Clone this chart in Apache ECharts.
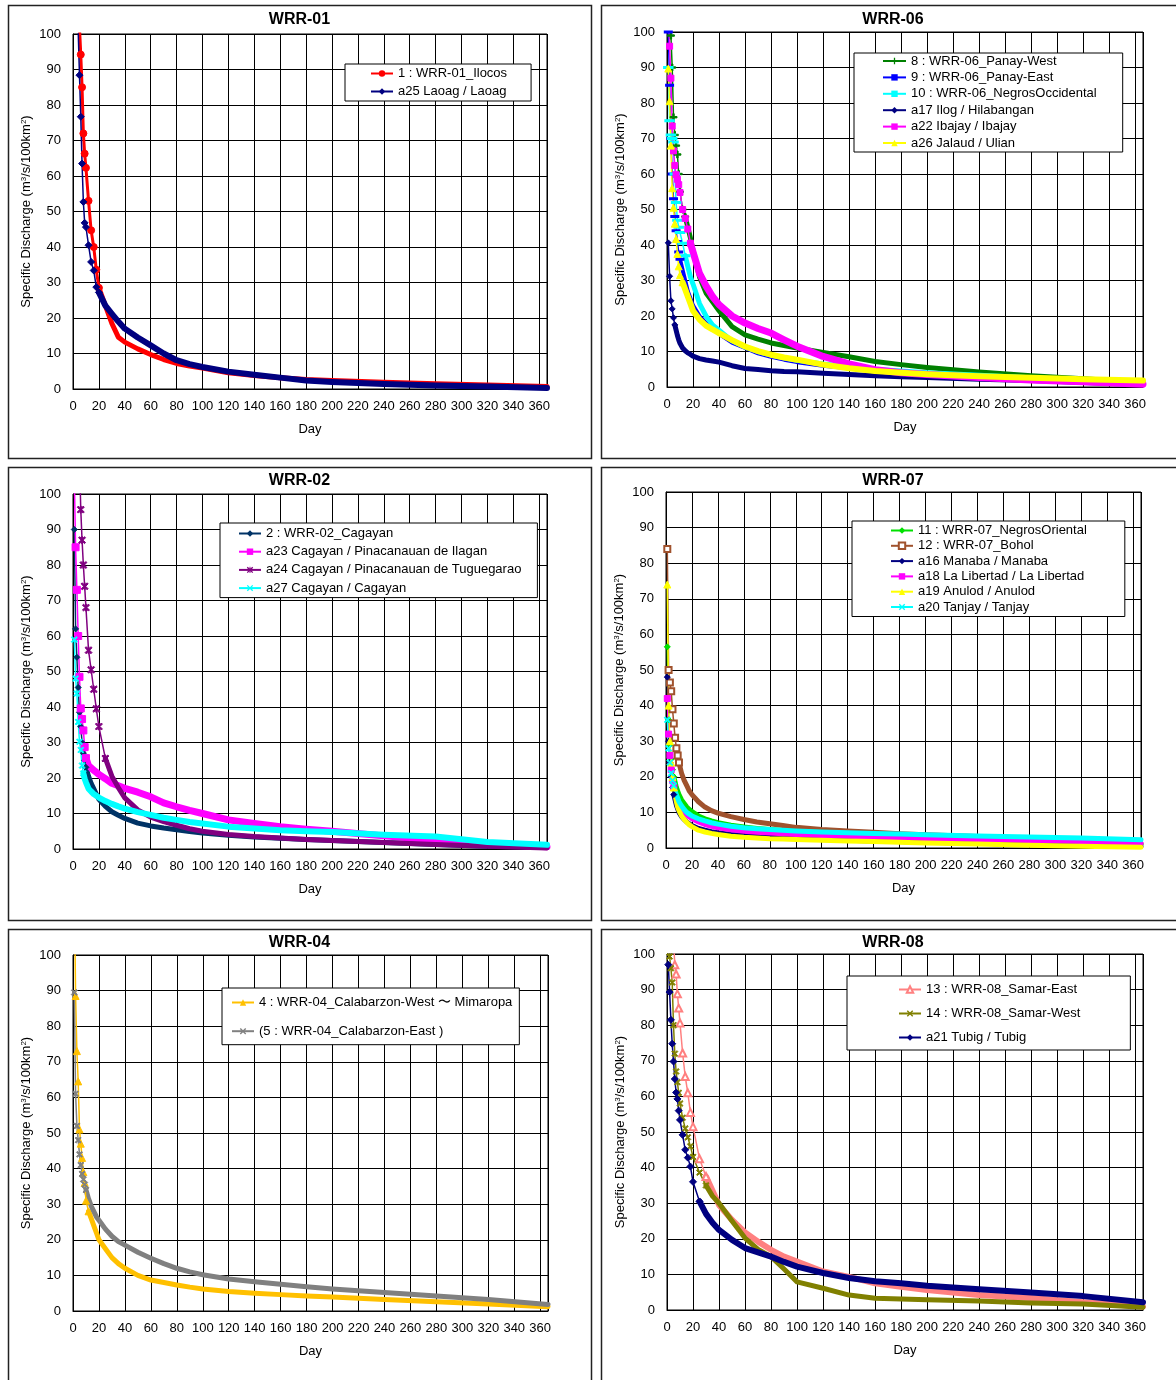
<!DOCTYPE html>
<html><head><meta charset="utf-8">
<script src="https://cdn.jsdelivr.net/npm/echarts@6/dist/echarts.min.js"></script>
<style>html,body{margin:0;padding:0;background:#fff}#c{width:1176px;height:1380px}</style>
</head><body><div id="c"></div>
<script>
// ---------- DATA ----------
const days = [1,2,3,4,5,6,7,8,9,10,12,14,16,18,20,25,30,35,40,50,60,70,80,90,100,120,140,160,180,200,240,280,320,366];

// WRR-01
const wrr01_ilocos = [250,180,140,115,102,94.2,85,72,66.3,62.3,53,44.7,40,33.6,28.5,23.5,18.5,14.6,13.2,11.3,9.7,8.3,7.2,6.5,5.9,4.6,3.8,3.2,2.7,2.4,1.9,1.5,1.1,0.7];
const a25_laoag    = [200,150,115,101,88.4,76.7,63.5,52.7,46.8,45.6,40.5,35.8,33.4,28.7,27.2,23.5,21.2,19,17,14.5,12.3,10,8.1,7,6.2,4.9,4,3.2,2.4,2,1.4,1,0.7,0.3];
// WRR-06
const wrr06_panayWest = [200,130,99,90,76,71,68,65.5,60,55,50,48,45,42,38.5,31,26.5,24,21.5,17,14.7,13.5,12.4,11.7,11,9.7,8.5,7.2,6.3,5.5,4.2,3.2,2.3,1.3];
const wrr06_panayEast = [100,85,70,60,53,48,44,41,38,36,33,30,27,25,23,20,18,16.5,15,12.5,11,9.5,8.5,7.7,7,6,5.3,4.6,4.1,3.7,3,2.4,1.9,1.2];
const wrr06_negrosOcc = [90,75,71,70,69,60,52,47,45,43.5,40.5,37,34,31,29,23.5,20,17.5,16,13,11.3,10,9,8.2,7.5,6.5,5.7,5,4.5,4,3.3,2.6,2,1.4];
const a17_ilog        = [40.6,31.2,24.3,22,19.5,17.5,16,14.5,13.3,12.3,11,10.2,9.6,9.2,8.7,8,7.6,7.3,7,6,5.2,4.9,4.6,4.4,4.3,3.9,3.5,3.2,2.9,2.7,2.2,1.8,1.3,0.7];
const a22_ibajay      = [110,96,87,73.5,66.5,62.4,59.8,58.5,57,54.8,50,47.5,44.5,40.5,38,32,28.5,25.5,23.2,20,18,16.5,15.2,13.3,11.5,8.6,6.5,4.9,4,3.5,2.7,2,1.5,0.8];
const a26_jalaud      = [89.7,80.5,68,56,50.5,46,41.7,37.5,34,31.5,29.5,27.5,25.5,23.5,21.5,19,17.3,16.2,15.2,13.2,11.4,10.1,9.1,8.3,7.7,6.3,5.3,4.5,4,3.6,3,2.6,2.2,1.8];
// WRR-02
const wrr02_cagayan   = [90,62,54,45.5,38.5,34.5,30,27,25,23,20.5,18.5,17,15.5,14,12,10.5,9.5,8.6,7.3,6.5,5.9,5.4,4.9,4.5,3.9,3.4,3,2.7,2.4,1.8,1.3,0.8,0.4];
const a23_ilagan      = [105,85,73,60,48.5,39.6,36.6,33.4,28.7,25.6,23.5,22.8,22.2,21.6,21,19.8,18.5,17.8,17.1,16,14.7,13,11.9,10.9,10,8.2,7.2,6.3,5.6,5,3.7,2.5,1.5,0.6];
const a24_tuguegarao  = [400,300,200,150,110,95.6,87,80,74,68,56,50.5,45,39.5,34.5,25.5,20.5,17.3,14.4,11,9,7.7,6.7,5.7,5,4.1,3.5,3.1,2.7,2.4,1.8,1.3,0.8,0.3];
const a27_cagayan     = [59,48,43.8,35.8,30.2,27.9,23.5,21.3,19.8,18.8,17,16.2,15.5,15,14.5,13.5,12.7,12,11.4,10.4,9.6,8.8,8.2,7.6,7.2,6.3,5.8,5.3,5,4.8,4,3.5,2,1.2];
// WRR-07
const wrr07_negrosOr  = [56.5,36,29,25,22,20,18.5,17,16,15,13.5,12.5,11.5,10.8,10.2,9,8.2,7.6,7.1,6.4,5.9,5.5,5.2,4.9,4.7,4.3,4,3.7,3.4,3.1,2.6,2.1,1.6,1];
const wrr07_bohol     = [84,50,46.5,44,39,35,31,28,26,24,21,19,17.5,16,15,13,11.5,10.5,9.8,8.8,8,7.3,6.8,6.3,5.8,5.2,4.8,4.4,4,3.7,3.2,2.7,2.2,1.2];
const a16_manaba      = [48,30,24,20,17,15,13.5,12,11,10,8.8,8,7.3,6.8,6.3,5.5,5,4.6,4.3,3.8,3.5,3.3,3.1,2.9,2.7,2.4,2.2,2,1.8,1.6,1.3,1,0.8,0.4];
const a18_libertad    = [42,32,26,22,19,17,15.5,14,13,12,10.8,10,9.3,8.7,8.2,7.3,6.6,6.1,5.7,5.1,4.7,4.4,4.2,4,3.8,3.5,3.3,3.1,2.9,2.7,2.4,2.1,1.8,1.3];
const a19_anulod      = [74,40,30,24,20,17,15,13,11.5,10.5,9,8,7.2,6.5,6,5,4.5,4.1,3.8,3.3,3,2.8,2.6,2.5,2.4,2.2,2,1.8,1.6,1.4,1.1,0.8,0.5,0.2];
const a20_tanjay      = [36,28,24,21,19,17.5,16,15,14,13,11.8,10.8,10,9.5,9,8.2,7.6,7.1,6.7,6.1,5.7,5.4,5.2,5,4.8,4.5,4.3,4.1,3.9,3.7,3.4,3.1,2.8,2.3];
// WRR-04
const wrr04_west      = [120,88.5,73,64.5,51,47,43,39,36,31,28,26,24,22,20,17.5,15,13.3,12,10,8.7,8,7.3,6.7,6.2,5.5,5,4.6,4.2,3.9,3.2,2.6,2,1.2];
const wrr04_east      = [89.5,61,52,48,44,41,38.5,37,35.5,34,31.5,29.5,28,26.5,25.5,23,21,19.5,18.5,16.5,14.8,13.3,12,11,10.2,9,8.2,7.5,6.8,6.2,5.2,4.2,3.2,1.8];
// WRR-08
const wrr08_samarEast = [300,200,150,120,104,97,94.4,88.8,84.8,80.6,72.2,65.6,61,55.5,51.5,42.5,37.5,33.5,29.5,25.3,21.8,19.2,16.9,15,13.6,10.8,9.3,7.5,6.5,5.6,4.2,3.4,2.2,1];
const wrr08_samarWest = [110,99.3,96,92,80,72,67,64,61,58,54,51,48.5,46,43,38.6,35,32,30,25,20.2,17,15,11.5,7.9,6.1,4.2,3.3,3.1,2.9,2.5,2,1.7,0.8];
const a21_tubig       = [97,89.3,81.5,74.8,69.8,64.9,61.1,59.3,56,53.4,49.2,45,42.8,40.3,36,30.5,27,24.5,22.5,19.7,17.4,16.2,15,13.5,12.2,10.4,9,8.1,7.5,6.8,5.8,4.9,3.9,2.2];

const titles = ['WRR-01','WRR-06','WRR-02','WRR-07','WRR-04','WRR-08'];

// ---------- STYLE / LAYOUT ----------
const PLUS = 'path://M4,0H6V4H10V6H6V10H4V6H0V4H4Z';
const XM = 'M0,1.5L1.5,0L5,3.5L8.5,0L10,1.5L6.5,5L10,8.5L8.5,10L5,6.5L1.5,10L0,8.5L3.5,5Z';
const XMARK = 'path://' + XM;
const STAR = 'path://' + XM + 'M4.3,0H5.7V10H4.3Z';
const DASH = 'path://M0,0H10V2H0Z';
const FONT = 'Liberation Sans, Arial, sans-serif';

const panels = [
 {g:[73,34,474,355], box:[8,5,583,453], t:[299.5,20],
  lg:{left:345,top:64,padding:[2,24,2,25],itemGap:3,lh:15,iw:22},
  s:[{name:'1 : WRR-01_Ilocos',d:wrr01_ilocos,c:'#FF0000',sym:'circle',sz:7,lw:3,tw:5,split:20},
     {name:'a25 Laoag / Laoag',d:a25_laoag,c:'#000080',sym:'diamond',sz:7,lw:1.5,tw:6,split:20}]},
 {g:[667,32,476,355], box:[601,5,600,453], t:[893,20],
  lg:{left:854,top:53,padding:[1,26,2,28],itemGap:2.4,lh:14,iw:23},
  s:[{name:'8 : WRR-06_Panay-West',d:wrr06_panayWest,c:'#008000',sym:PLUS,sz:7,lw:1.5,tw:5,split:14},
     {name:'9 : WRR-06_Panay-East',d:wrr06_panayEast,c:'#0000FF',sym:DASH,sz:[6,2],lw:1.5,tw:4,split:10},
     {name:'10 : WRR-06_NegrosOccidental',d:wrr06_negrosOcc,c:'#00FFFF',sym:DASH,sz:[7,2],lw:1.5,tw:5,split:14},
     {name:'a17 Ilog / Hilabangan',d:a17_ilog,c:'#000080',sym:'diamond',sz:6,lw:1.5,tw:5,split:6},
     {name:'a22 Ibajay / Ibajay',d:a22_ibajay,c:'#FF00FF',sym:'rect',sz:6,lw:1.5,tw:7,split:18},
     {name:'a26 Jalaud / Ulian',d:a26_jalaud,c:'#FFFF00',sym:'triangle',sz:7,lw:1.5,tw:6,split:12}]},
 {g:[73,494,474,355], box:[8,467,583,453], t:[299.5,481],
  lg:{left:220,top:523,padding:[3,16,2,18],itemGap:3.2,lh:15,iw:22},
  s:[{name:'2 : WRR-02_Cagayan',d:wrr02_cagayan,c:'#003366',sym:'diamond',sz:6,lw:1.5,tw:5,split:10},
     {name:'a23 Cagayan / Pinacanauan de Ilagan',d:a23_ilagan,c:'#FF00FF',sym:'rect',sz:7,lw:1.5,tw:7,split:10},
     {name:'a24 Cagayan / Pinacanauan de Tuguegarao',d:a24_tuguegarao,c:'#800080',sym:STAR,sz:7,lw:1.5,tw:5,split:25},
     {name:'a27 Cagayan / Cagayan',d:a27_cagayan,c:'#00FFFF',sym:XMARK,sz:6,lw:1.5,tw:6,split:8}]},
 {g:[666,492,475,356], box:[601,467,600,453], t:[893,481],
  lg:{left:852,top:521,padding:[3,38,3,38],itemGap:2.3,lh:13,iw:22},
  s:[{name:'11 : WRR-07_NegrosOriental',d:wrr07_negrosOr,c:'#00E000',sym:'diamond',sz:6,lw:1.5,tw:5,split:6},
     {name:'12 : WRR-07_Bohol',d:wrr07_bohol,c:'#A0522D',sym:'emptyRect',sz:6,lw:1.5,tw:5,split:10},
     {name:'a16 Manaba / Manaba',d:a16_manaba,c:'#000080',sym:'diamond',sz:6,lw:1.5,tw:5,split:6},
     {name:'a18 La Libertad / La Libertad',d:a18_libertad,c:'#FF00FF',sym:'rect',sz:6,lw:1.5,tw:5,split:6},
     {name:'a19 Anulod / Anulod',d:a19_anulod,c:'#FFFF00',sym:'triangle',sz:7,lw:1.5,tw:5,split:6},
     {name:'a20 Tanjay / Tanjay',d:a20_tanjay,c:'#00FFFF',sym:XMARK,sz:6,lw:1.5,tw:5,split:6}]},
 {g:[73,955,475,356], box:[8,929,583,460], t:[299.5,943],
  lg:{left:222,top:988,padding:[7,7,6,9],itemGap:13.7,lh:15,iw:22},
  s:[{name:'4 : WRR-04_Calabarzon-West \u301C Mimaropa',d:wrr04_west,c:'#FFC000',sym:'triangle',sz:7,lw:1.5,tw:5,split:12},
     {name:'(5 : WRR-04_Calabarzon-East )',d:wrr04_east,c:'#808080',sym:XMARK,sz:6,lw:1.5,tw:5,split:10}]},
 {g:[667,954,476,356], box:[601,929,600,460], t:[893,943],
  lg:{left:847,top:976,padding:[6,50,5,51],itemGap:9,lh:15,iw:22},
  s:[{name:'13 : WRR-08_Samar-East',d:wrr08_samarEast,c:'#FF8080',sym:'emptyTriangle',sz:7,lw:1.5,tw:6,split:30},
     {name:'14 : WRR-08_Samar-West',d:wrr08_samarWest,c:'#808000',sym:XMARK,sz:6,lw:1.5,tw:5,split:30},
     {name:'a21 Tubig / Tubig',d:a21_tubig,c:'#000080',sym:'diamond',sz:7,lw:1.5,tw:6,split:25}]}
];

const grids=[], xAxes=[], yAxes=[], legends=[], series=[], graphics=[];
panels.forEach((p,i)=>{
  graphics.push({type:'rect',z:0,silent:true,shape:{x:p.box[0]+0.5,y:p.box[1]+0.5,width:p.box[2],height:p.box[3]},style:{fill:'#fff',stroke:'#222',lineWidth:1.5}});
  graphics.push({type:'text',z:10,silent:true,x:p.t[0],y:p.t[1],style:{text:titles[i],font:'bold 16px '+FONT,fill:'#000',align:'center',verticalAlign:'middle'}});
  grids.push({left:p.g[0],top:p.g[1],width:p.g[2],height:p.g[3],show:true,borderColor:'#000',borderWidth:1,backgroundColor:'rgba(0,0,0,0)',z:1});
  xAxes.push({type:'value',gridIndex:i,min:0,max:366,interval:20,
    name:'Day',nameLocation:'middle',nameGap:34,nameTextStyle:{fontSize:13,color:'#000',fontFamily:FONT},
    axisLine:{onZero:false,lineStyle:{color:'#000',width:1}},axisTick:{show:false},
    axisLabel:{fontSize:13,color:'#000',fontFamily:FONT,margin:11,formatter:v=>(v%20===0?String(v):'')},
    splitLine:{show:true,lineStyle:{color:'#000',width:1}}});
  yAxes.push({type:'value',gridIndex:i,min:0,max:100,interval:10,
    name:'Specific Discharge (m{s|3}/s/100km{s|2})',nameLocation:'middle',nameGap:40,nameRotate:90,
    nameTextStyle:{fontSize:13,color:'#000',fontFamily:FONT,rich:{s:{fontSize:8,verticalAlign:'top',fontFamily:FONT,color:'#000'}}},
    axisLine:{lineStyle:{color:'#000',width:1}},axisTick:{show:false},
    axisLabel:{fontSize:13,color:'#000',fontFamily:FONT,margin:12},
    splitLine:{show:true,lineStyle:{color:'#000',width:1}}});
  legends.push({orient:'vertical',left:p.lg.left,top:p.lg.top,padding:p.lg.padding,itemGap:p.lg.itemGap,
    itemWidth:p.lg.iw,itemHeight:8,borderColor:'#000',borderWidth:1,backgroundColor:'#fff',z:20,
    selectedMode:false,align:'left',
    textStyle:{fontSize:13,color:'#000',fontFamily:FONT,lineHeight:p.lg.lh},
    data:p.s.map(s=>s.name)});
  p.s.forEach(s=>{
    const head=[], tail=[];
    days.forEach((d,k)=>{ if(d<=s.split) head.push([d,s.d[k]]); if(d>=s.split) tail.push([d,s.d[k]]); });
    series.push({type:'line',name:s.name,xAxisIndex:i,yAxisIndex:i,data:head,symbol:s.sym,symbolSize:s.sz,
      showAllSymbol:true,clip:true,z:3,lineStyle:{color:s.c,width:s.lw},
      itemStyle:{color:s.c,borderColor:s.c},emphasis:{disabled:true}});
    series.push({type:'line',name:s.name,xAxisIndex:i,yAxisIndex:i,data:tail,symbol:'none',clip:true,z:2,
      lineStyle:{color:s.c,width:s.tw,cap:'round',join:'round'},itemStyle:{color:s.c},emphasis:{disabled:true}});
  });
});

const chart = echarts.init(document.getElementById('c'),null,{renderer:'canvas'});
chart.setOption({animation:false,textStyle:{fontFamily:FONT},grid:grids,xAxis:xAxes,yAxis:yAxes,legend:legends,series:series,graphic:graphics});
</script>
</body></html>
